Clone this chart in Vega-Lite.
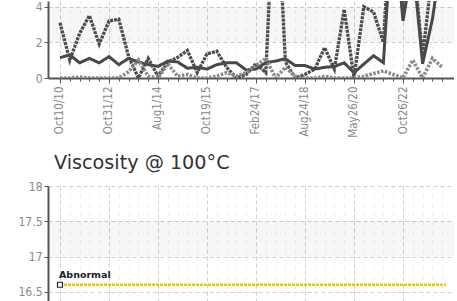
{
  "$schema": "https://vega.github.io/schema/vega-lite/v6.json",
  "background": "white",
  "padding": {"left": 17, "top": 0, "right": 0, "bottom": 0},
  "spacing": 15,
  "config": {
    "view": {"stroke": null},
    "axis": {"labelFont": "DejaVu Sans Condensed, DejaVu Sans", "labelColor": "#8a8a8a", "domainColor": "#555555", "tickColor": "#555555", "title": null}
  },
  "datasets": {
    "lines": [
      {"i":0,"series":"A","value":1.14},{"i":1,"series":"A","value":1.3},{"i":2,"series":"A","value":0.85},{"i":3,"series":"A","value":1.1},{"i":4,"series":"A","value":0.85},
      {"i":5,"series":"A","value":1.2},{"i":6,"series":"A","value":0.75},{"i":7,"series":"A","value":1.1},{"i":8,"series":"A","value":0.9},{"i":9,"series":"A","value":0.75},
      {"i":10,"series":"A","value":0.65},{"i":11,"series":"A","value":0.95},{"i":12,"series":"A","value":0.9},{"i":13,"series":"A","value":0.55},{"i":14,"series":"A","value":0.6},
      {"i":15,"series":"A","value":0.5},{"i":16,"series":"A","value":0.75},{"i":17,"series":"A","value":0.85},{"i":18,"series":"A","value":0.85},{"i":19,"series":"A","value":0.45},
      {"i":20,"series":"A","value":0.5},{"i":21,"series":"A","value":0.86},{"i":22,"series":"A","value":0.95},{"i":23,"series":"A","value":1.08},{"i":24,"series":"A","value":0.7},
      {"i":25,"series":"A","value":0.7},{"i":26,"series":"A","value":0.5},{"i":27,"series":"A","value":0.6},{"i":28,"series":"A","value":0.65},{"i":29,"series":"A","value":0.85},
      {"i":30,"series":"A","value":0.3},{"i":31,"series":"A","value":0.78},{"i":32,"series":"A","value":1.25},{"i":33,"series":"A","value":0.86},{"i":34,"series":"A","value":9.5},
      {"i":35,"series":"A","value":3.2},{"i":36,"series":"A","value":6.5},{"i":37,"series":"A","value":0.8},{"i":38,"series":"A","value":3.3},{"i":39,"series":"A","value":7},
      {"i":0,"series":"B","value":3.1},{"i":1,"series":"B","value":1.0},{"i":2,"series":"B","value":2.5},{"i":3,"series":"B","value":3.5},{"i":4,"series":"B","value":1.9},
      {"i":5,"series":"B","value":3.2},{"i":6,"series":"B","value":3.3},{"i":7,"series":"B","value":1.2},{"i":8,"series":"B","value":0.0},{"i":9,"series":"B","value":1.1},
      {"i":10,"series":"B","value":0.1},{"i":11,"series":"B","value":0.9},{"i":12,"series":"B","value":1.15},{"i":13,"series":"B","value":1.55},{"i":14,"series":"B","value":0.3},
      {"i":15,"series":"B","value":1.35},{"i":16,"series":"B","value":1.5},{"i":17,"series":"B","value":0.6},{"i":18,"series":"B","value":0.0},{"i":19,"series":"B","value":0.2},
      {"i":20,"series":"B","value":0.8},{"i":21,"series":"B","value":0.3},{"i":22,"series":"B","value":12},{"i":23,"series":"B","value":0.9},{"i":24,"series":"B","value":0.0},
      {"i":25,"series":"B","value":0.2},{"i":26,"series":"B","value":0.5},{"i":27,"series":"B","value":1.7},{"i":28,"series":"B","value":0.5},{"i":29,"series":"B","value":3.85},
      {"i":30,"series":"B","value":0.0},{"i":31,"series":"B","value":4.0},{"i":32,"series":"B","value":3.7},{"i":33,"series":"B","value":2.0},{"i":34,"series":"B","value":11},
      {"i":35,"series":"B","value":3.5},{"i":36,"series":"B","value":7},{"i":37,"series":"B","value":1.2},{"i":38,"series":"B","value":6},
      {"i":0,"series":"C","value":0},{"i":1,"series":"C","value":0},{"i":2,"series":"C","value":0.05},{"i":3,"series":"C","value":0},{"i":4,"series":"C","value":0},
      {"i":5,"series":"C","value":0},{"i":6,"series":"C","value":0},{"i":7,"series":"C","value":0.35},{"i":8,"series":"C","value":1.0},{"i":9,"series":"C","value":0.1},
      {"i":10,"series":"C","value":0.0},{"i":11,"series":"C","value":0.8},{"i":12,"series":"C","value":0.1},{"i":13,"series":"C","value":0.2},{"i":14,"series":"C","value":0.0},
      {"i":15,"series":"C","value":0.0},{"i":16,"series":"C","value":0.1},{"i":17,"series":"C","value":0.3},{"i":18,"series":"C","value":0.1},{"i":19,"series":"C","value":0.3},
      {"i":20,"series":"C","value":0.7},{"i":21,"series":"C","value":1.1},{"i":22,"series":"C","value":0.0},{"i":23,"series":"C","value":0.6},{"i":24,"series":"C","value":0.1},
      {"i":25,"series":"C","value":0.0},{"i":26,"series":"C","value":0.0},{"i":27,"series":"C","value":0.1},{"i":28,"series":"C","value":0.0},{"i":29,"series":"C","value":0.0},
      {"i":30,"series":"C","value":0.0},{"i":31,"series":"C","value":0.1},{"i":32,"series":"C","value":0.25},{"i":33,"series":"C","value":0.4},{"i":34,"series":"C","value":0.2},
      {"i":35,"series":"C","value":0.0},{"i":36,"series":"C","value":1.0},{"i":37,"series":"C","value":0.0},{"i":38,"series":"C","value":1.1},{"i":39,"series":"C","value":0.6}
    ],
    "bandsTop": [{"y0": 2, "y1": 4}],
    "bandsBottom": [{"y0": 17, "y1": 17.5}],
    "abnormal": [{"i": 0, "v": 16.6, "label": "Abnormal"}, {"i": 39.4, "v": 16.6, "label": ""}]
  },
  "vconcat": [
    {
      "width": 406,
      "height": 77,
      "layer": [
        {
          "data": {"name": "bandsTop"},
          "mark": {"type": "rect", "fill": "#000000", "opacity": 0.035},
          "encoding": {
            "y": {"field": "y0", "type": "quantitative", "scale": {"domain": [0, 4.32], "nice": false, "zero": false},
              "axis": {"values": [0, 2, 4], "tickCount": 20, "format": "d", "grid": true, "gridDash": [4, 3], "gridColor": "#cfcfcf", "domainWidth": 2, "tickSize": 4, "labelFontSize": 12, "labelPadding": 2, "labelOverlap": false, "labelFlush": false}},
            "y2": {"field": "y1"}
          }
        },
        {
          "data": {"name": "lines"},
          "mark": {"type": "line", "clip": true, "strokeJoin": "miter"},
          "encoding": {
            "x": {"field": "i", "type": "quantitative", "scale": {"domain": [-1.224, 40.204], "nice": false, "zero": false},
              "axis": {
                "values": [0,1,2,3,4,5,6,7,8,9,10,11,12,13,14,15,16,17,18,19,20,21,22,23,24,25,26,27,28,29,30,31,32,33,34,35,36,37,38,39],
                "tickCount": 100,
                "labelExpr": "datum.value % 5 === 0 ? ['Oct10/10','Oct31/12','Aug1/14','Oct19/15','Feb24/17','Aug24/18','May26/20','Oct26/22'][datum.value / 5] : ''",
                "labelAngle": -90, "labelAlign": "right", "labelBaseline": "middle", "labelOverlap": false, "labelFlush": false, "labelFontSize": 11.5, "labelPadding": 3,
                "grid": true,
                "gridColor": {"condition": {"test": "datum.value % 5 === 0", "value": "#cfcfcf"}, "value": "#ececec"},
                "gridDash": {"condition": {"test": "datum.value % 5 === 0", "value": [4, 3]}, "value": [3, 6]},
                "tickSize": {"condition": {"test": "datum.value % 5 === 0", "value": 5}, "value": 3},
                "domainWidth": 2
              }},
            "y": {"field": "value", "type": "quantitative", "scale": {"domain": [0, 4.32], "nice": false, "zero": false}},
            "color": {"field": "series", "type": "nominal", "scale": {"domain": ["A", "B", "C"], "range": ["#484848", "#4c4c4c", "#8a8a8a"]}, "legend": null},
            "strokeDash": {"field": "series", "type": "nominal", "scale": {"domain": ["A", "B", "C"], "range": [[1, 0], [3, 1], [2.5, 1.5]]}, "legend": null},
            "strokeWidth": {"field": "series", "type": "ordinal", "scale": {"domain": ["A", "B", "C"], "range": [3, 3.6, 2.4]}, "legend": null}
          }
        }
      ]
    },
    {
      "width": 406,
      "height": 115,
      "title": {"text": "Viscosity @ 100°C", "anchor": "start", "frame": "group", "font": "DejaVu Sans", "fontSize": 19.2, "fontWeight": "normal", "color": "#333333", "offset": -8, "baseline": "alphabetic", "dx": 6},
      "layer": [
        {
          "data": {"name": "bandsBottom"},
          "mark": {"type": "rect", "fill": "#000000", "opacity": 0.035},
          "encoding": {
            "y": {"field": "y0", "type": "quantitative", "scale": {"domain": [16.37, 18], "nice": false, "zero": false},
              "axis": {"values": [16.5, 17, 17.5, 18], "tickCount": 20, "format": "~g", "grid": true, "gridDash": [4, 3], "gridColor": "#cfcfcf", "domainWidth": 2, "tickSize": 4, "labelFontSize": 12, "labelPadding": 2, "labelOverlap": false, "labelFlush": false}},
            "y2": {"field": "y1"}
          }
        },
        {
          "data": {"name": "abnormal"},
          "mark": {"type": "line", "color": "#f5c400", "strokeWidth": 2.5, "strokeDash": [3, 1]},
          "encoding": {
            "x": {"field": "i", "type": "quantitative", "scale": {"domain": [-1.224, 40.204], "nice": false, "zero": false},
              "axis": {
                "values": [0,1,2,3,4,5,6,7,8,9,10,11,12,13,14,15,16,17,18,19,20,21,22,23,24,25,26,27,28,29,30,31,32,33,34,35,36,37,38,39],
                "tickCount": 100,
                "labels": false, "ticks": false, "domain": false, "grid": true,
                "gridColor": {"condition": {"test": "datum.value % 5 === 0", "value": "#cfcfcf"}, "value": "#ececec"},
                "gridDash": {"condition": {"test": "datum.value % 5 === 0", "value": [4, 3]}, "value": [3, 6]}
              }},
            "y": {"field": "v", "type": "quantitative", "scale": {"domain": [16.37, 18], "nice": false, "zero": false}}
          }
        },
        {
          "data": {"name": "abnormal"},
          "transform": [{"filter": "datum.label != ''"}],
          "mark": {"type": "point", "shape": "square", "size": 25, "filled": true, "fill": "white", "stroke": "#222222", "strokeWidth": 1.2, "opacity": 1},
          "encoding": {
            "x": {"field": "i", "type": "quantitative"},
            "y": {"field": "v", "type": "quantitative"}
          }
        },
        {
          "data": {"name": "abnormal"},
          "transform": [{"filter": "datum.label != ''"}],
          "mark": {"type": "text", "align": "left", "baseline": "alphabetic", "dx": -1, "dy": -7, "font": "DejaVu Sans", "fontSize": 9.5, "fontWeight": "bold", "color": "#222222"},
          "encoding": {
            "x": {"field": "i", "type": "quantitative"},
            "y": {"field": "v", "type": "quantitative"},
            "text": {"field": "label"}
          }
        }
      ]
    }
  ]
}
